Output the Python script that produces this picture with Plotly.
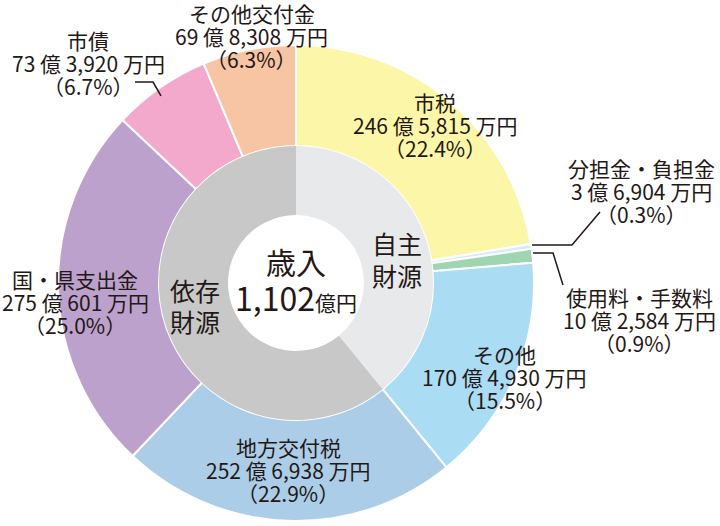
import plotly.graph_objects as go

# 歳入内訳（万円）
items = ['市税', '分担金・負担金', '使用料・手数料', 'その他',
         '地方交付税', '国・県支出金', '市債', 'その他交付金']
amounts = [2465815, 36904, 102584, 1704930,
           2526938, 2750601, 733920, 698308]
amount_text = ['246 億 5,815 万円', '3 億 6,904 万円', '10 億 2,584 万円', '170 億 4,930 万円',
               '252 億 6,938 万円', '275 億 601 万円', '73 億 3,920 万円', '69 億 8,308 万円']
shares = ['22.4%', '0.3%', '0.9%', '15.5%', '22.9%', '25.0%', '6.7%', '6.3%']
colors = ['#fcf6a9', '#d6eaf7', '#9fd6b1', '#aadcf4',
          '#abcde8', '#bba1cc', '#f2a9cc', '#f7c5a3']

groups = ['自主財源', '依存財源']
group_amounts = [sum(amounts[:4]), sum(amounts[4:])]
group_colors = ['#e8e9ea', '#c8c8c8']

W, H = 720, 526
cx, cy = 296, 283  # 円の中心（px）


def px(x, y):
    return x / W, 1 - y / H


def dom(r):
    x0, y1 = px(cx - r, cy - r)
    x1, y0 = px(cx + r, cy + r)
    return dict(x=[x0, x1], y=[y0, y1])


fig = go.Figure()
fig.add_trace(go.Pie(labels=items, values=amounts, sort=False, direction='clockwise',
                     rotation=0, hole=137 / 238, domain=dom(238), textinfo='none',
                     hoverinfo='label+percent',
                     marker=dict(colors=colors, line=dict(color='white', width=2))))
fig.add_trace(go.Pie(labels=groups, values=group_amounts, sort=False, direction='clockwise',
                     rotation=0, hole=68 / 137, domain=dom(137), textinfo='none',
                     hoverinfo='label+percent',
                     marker=dict(colors=group_colors, line=dict(color='white', width=0))))

font = 'Noto Sans CJK JP'
ink = '#231815'

# ラベル中心（px）
label_pos = [(435, 125), (641, 191), (639, 320), (505, 377),
             (288, 470), (75, 302), (88, 63), (252, 36)]
LINE = 23


def note(x, y, text, size):
    ax, ay = px(x, y)
    return dict(x=ax, y=ay, xref='paper', yref='paper', showarrow=False,
                xanchor='center', yanchor='middle', align='center', text=text,
                font=dict(family=font, size=size, color=ink))


anns = []
for name, amt, pct, (x, y) in zip(items, amount_text, shares, label_pos):
    for k, line in enumerate([name, amt, f'（{pct}）']):
        anns.append(note(x, y + (k - 1) * LINE, line, 21))

anns += [
    note(cx, 261, '歳入', 30),
    note(cx, 297, "1,102<span style='font-size:21px'>億円</span>", 32),
    note(397, 243, '自主', 25),
    note(397, 275, '財源', 25),
    note(195, 290, '依存', 25),
    note(195, 321, '財源', 25),
]

# 引き出し線
leaders = [
    [(135, 82), (153, 82), (161, 96)],
    [(532, 245), (572, 245), (600, 212)],
    [(533, 253), (553, 253), (563, 285)],
]
shapes = []
for pts in leaders:
    path = 'M ' + ' L '.join('{:.4f},{:.4f}'.format(*px(x, y)) for x, y in pts)
    shapes.append(dict(type='path', xref='paper', yref='paper', path=path,
                       line=dict(color=ink, width=1.5)))

fig.update_layout(width=W, height=H, margin=dict(l=0, r=0, t=0, b=0),
                  paper_bgcolor='white', plot_bgcolor='white', showlegend=False,
                  annotations=anns, shapes=shapes)
fig.write_html('out.html', config={'displayModeBar': False},
               post_script="document.body.style.margin='0';")
